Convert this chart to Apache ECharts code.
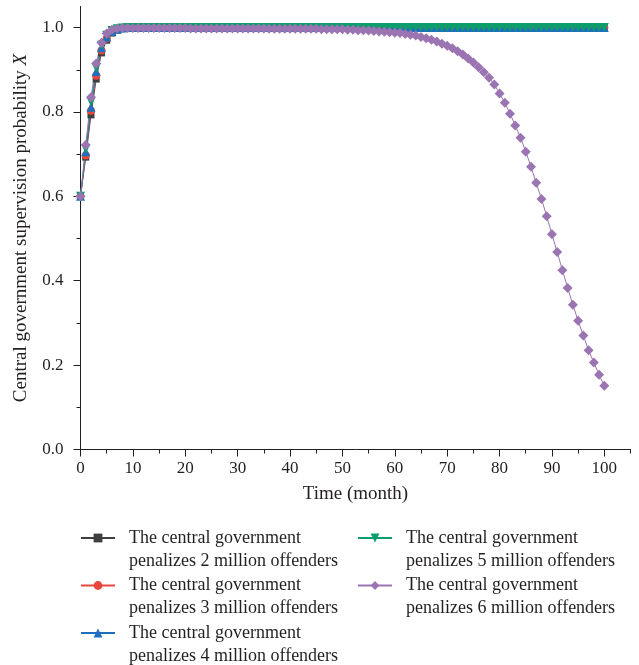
<!DOCTYPE html>
<html>
<head>
<meta charset="utf-8">
<script src="https://cdn.jsdelivr.net/npm/echarts@6/dist/echarts.min.js"></script>
<style>
  html, body { margin: 0; padding: 0; background: #fff; }
  #chart { width: 639px; height: 665px; }
</style>
</head>
<body>
<div id="chart"></div>
<script>
// Simulation horizon in months
const months = [
  0, 1, 2, 3, 4, 5, 6, 7, 8, 9, 10, 11, 12, 13, 14, 15, 16, 17, 18, 19,
  20, 21, 22, 23, 24, 25, 26, 27, 28, 29, 30, 31, 32, 33, 34, 35, 36, 37, 38, 39,
  40, 41, 42, 43, 44, 45, 46, 47, 48, 49, 50, 51, 52, 53, 54, 55, 56, 57, 58, 59,
  60, 61, 62, 63, 64, 65, 66, 67, 68, 69, 70, 71, 72, 73, 74, 75, 76, 77, 78, 79,
  80, 81, 82, 83, 84, 85, 86, 87, 88, 89, 90, 91, 92, 93, 94, 95, 96, 97, 98, 99,
  100
];

// Supervision probability X under each penalty level
const penalty2M = [
  0.600, 0.693, 0.793, 0.878, 0.940, 0.970, 0.987, 0.994, 0.998, 0.999,
  1, 1, 1, 1, 1, 1, 1, 1, 1, 1,
  1, 1, 1, 1, 1, 1, 1, 1, 1, 1,
  1, 1, 1, 1, 1, 1, 1, 1, 1, 1,
  1, 1, 1, 1, 1, 1, 1, 1, 1, 1,
  1, 1, 1, 1, 1, 1, 1, 1, 1, 1,
  1, 1, 1, 1, 1, 1, 1, 1, 1, 1,
  1, 1, 1, 1, 1, 1, 1, 1, 1, 1,
  1, 1, 1, 1, 1, 1, 1, 1, 1, 1,
  1, 1, 1, 1, 1, 1, 1, 1, 1, 1,
  1
];
const penalty3M = [
  0.600, 0.697, 0.803, 0.886, 0.946, 0.974, 0.989, 0.995, 0.998, 0.999,
  1, 1, 1, 1, 1, 1, 1, 1, 1, 1,
  1, 1, 1, 1, 1, 1, 1, 1, 1, 1,
  1, 1, 1, 1, 1, 1, 1, 1, 1, 1,
  1, 1, 1, 1, 1, 1, 1, 1, 1, 1,
  1, 1, 1, 1, 1, 1, 1, 1, 1, 1,
  1, 1, 1, 1, 1, 1, 1, 1, 1, 1,
  1, 1, 1, 1, 1, 1, 1, 1, 1, 1,
  1, 1, 1, 1, 1, 1, 1, 1, 1, 1,
  1, 1, 1, 1, 1, 1, 1, 1, 1, 1,
  1
];
const penalty4M = [
  0.600, 0.706, 0.811, 0.896, 0.952, 0.978, 0.991, 0.996, 0.999, 1,
  1, 1, 1, 1, 1, 1, 1, 1, 1, 1,
  1, 1, 1, 1, 1, 1, 1, 1, 1, 1,
  1, 1, 1, 1, 1, 1, 1, 1, 1, 1,
  1, 1, 1, 1, 1, 1, 1, 1, 1, 1,
  1, 1, 1, 1, 1, 1, 1, 1, 1, 1,
  1, 1, 1, 1, 1, 1, 1, 1, 1, 1,
  1, 1, 1, 1, 1, 1, 1, 1, 1, 1,
  1, 1, 1, 1, 1, 1, 1, 1, 1, 1,
  1, 1, 1, 1, 1, 1, 1, 1, 1, 1,
  1
];
const penalty5M = [
  0.600, 0.712, 0.824, 0.905, 0.958, 0.982, 0.993, 0.997, 0.999, 1,
  1, 1, 1, 1, 1, 1, 1, 1, 1, 1,
  1, 1, 1, 1, 1, 1, 1, 1, 1, 1,
  1, 1, 1, 1, 1, 1, 1, 1, 1, 1,
  1, 1, 1, 1, 1, 1, 1, 1, 1, 1,
  1, 1, 1, 1, 1, 1, 1, 1, 1, 1,
  1, 1, 1, 1, 1, 1, 1, 1, 1, 1,
  1, 1, 1, 1, 1, 1, 1, 1, 1, 1,
  1, 1, 1, 1, 1, 1, 1, 1, 1, 1,
  1, 1, 1, 1, 1, 1, 1, 1, 1, 1,
  1
];
const penalty6M = [
  0.600, 0.722, 0.835, 0.915, 0.964, 0.986, 0.995, 0.998, 0.999, 0.999,
  0.999, 0.999, 0.999, 0.999, 0.999, 0.999, 0.999, 0.999, 0.999, 0.999,
  0.999, 0.998, 0.998, 0.998, 0.998, 0.998, 0.998, 0.998, 0.998, 0.998,
  0.998, 0.998, 0.998, 0.998, 0.998, 0.998, 0.997, 0.997, 0.997, 0.997,
  0.997, 0.997, 0.997, 0.997, 0.997, 0.997, 0.996, 0.996, 0.996, 0.996,
  0.996, 0.995, 0.995, 0.994, 0.994, 0.993, 0.992, 0.991, 0.990, 0.989,
  0.988, 0.987, 0.985, 0.983, 0.981, 0.978, 0.975, 0.971, 0.967, 0.962,
  0.957, 0.951, 0.944, 0.936, 0.927, 0.917, 0.906, 0.894, 0.881, 0.865,
  0.844, 0.822, 0.796, 0.768, 0.739, 0.706, 0.670, 0.632, 0.594, 0.553,
  0.510, 0.468, 0.425, 0.383, 0.343, 0.305, 0.270, 0.235, 0.206, 0.177,
  0.151
];

const xMajorTicks = [0, 10, 20, 30, 40, 50, 60, 70, 80, 90, 100];
const xMinorTicks = [5, 15, 25, 35, 45, 55, 65, 75, 85, 95, 105];
const yMajorTicks = [0, 0.2, 0.4, 0.6, 0.8, 1.0];
const yMinorTicks = [0.1, 0.3, 0.5, 0.7, 0.9];

const seriesNames = [
  'The central government\npenalizes 2 million offenders',
  'The central government\npenalizes 3 million offenders',
  'The central government\npenalizes 4 million offenders',
  'The central government\npenalizes 5 million offenders',
  'The central government\npenalizes 6 million offenders'
];

const FONT = '"Liberation Serif", "DejaVu Serif", serif';
const AXIS_COLOR = '#231f20';

function pairs(values) {
  return months.map((m, i) => [m, values[i]]);
}

function makeSeries(name, values, color, symbol, size, rotate) {
  return {
    name: name,
    type: 'line',
    xAxisIndex: 0,
    yAxisIndex: 0,
    data: pairs(values),
    symbol: symbol,
    symbolSize: size,
    symbolRotate: rotate || 0,
    showAllSymbol: true,
    animation: false,
    lineStyle: { color: color, width: 1 },
    itemStyle: { color: color, borderWidth: 0 }
  };
}

// Two-line legend labels; a blank leading line keeps the first text
// line level with the icon, which the legend centres on the label block.
function legendColumn(names, left) {
  return {
    data: names,
    orient: 'vertical',
    left: left,
    top: 498.5,
    height: 300,
    itemWidth: 34,
    itemHeight: 11,
    itemGap: -21.5,
    formatter: name => '\n' + name,
    textStyle: {
      fontFamily: FONT,
      fontSize: 18,
      lineHeight: 23,
      color: '#231f20',
      padding: [0, 0, 0, 9]
    },
    selectedMode: false
  };
}

const chart = echarts.init(document.getElementById('chart'), null, { renderer: 'canvas' });

chart.setOption({
  backgroundColor: '#fff',
  animation: false,
  grid: { left: 80.5, right: 8.5, top: 6.5, bottom: 215.5, containLabel: false },
  legend: [
    legendColumn(seriesNames.slice(0, 3), 75),
    legendColumn(seriesNames.slice(3), 352)
  ],
  xAxis: [
    {
      type: 'value',
      min: 0,
      max: 105,
      interval: 5,
      name: 'Time (month)',
      nameLocation: 'middle',
      nameGap: 35,
      nameTextStyle: { fontFamily: FONT, fontSize: 19, color: AXIS_COLOR },
      axisLine: { show: true, onZero: false, lineStyle: { color: AXIS_COLOR, width: 1 } },
      axisTick: { show: true, inside: false, length: 7, customValues: xMajorTicks, lineStyle: { color: AXIS_COLOR } },
      axisLabel: { customValues: xMajorTicks, margin: 11, fontFamily: FONT, fontSize: 17, color: AXIS_COLOR },
      splitLine: { show: false }
    },
    {
      type: 'value',
      min: 0,
      max: 105,
      interval: 5,
      position: 'bottom',
      axisLine: { show: false },
      axisTick: { show: true, inside: false, length: 4, customValues: xMinorTicks, lineStyle: { color: AXIS_COLOR } },
      axisLabel: { show: false },
      splitLine: { show: false }
    }
  ],
  yAxis: [
    {
      type: 'value',
      min: 0,
      max: 1.05,
      interval: 0.05,
      name: '{a|Central government supervision probability }{b|X}',
      nameLocation: 'middle',
      nameGap: 50,
      nameTextStyle: {
        rich: {
          a: { fontFamily: FONT, fontSize: 19, color: AXIS_COLOR },
          b: { fontFamily: FONT, fontSize: 19, fontStyle: 'italic', color: AXIS_COLOR }
        }
      },
      axisLine: { show: true, onZero: false, lineStyle: { color: AXIS_COLOR, width: 1 } },
      axisTick: { show: true, inside: false, length: 7, customValues: yMajorTicks, lineStyle: { color: AXIS_COLOR } },
      axisLabel: {
        customValues: yMajorTicks,
        margin: 17,
        fontFamily: FONT,
        fontSize: 17,
        color: AXIS_COLOR,
        formatter: v => v.toFixed(1)
      },
      splitLine: { show: false }
    },
    {
      type: 'value',
      min: 0,
      max: 1.05,
      interval: 0.05,
      position: 'left',
      axisLine: { show: false },
      axisTick: { show: true, inside: false, length: 4, customValues: yMinorTicks, lineStyle: { color: AXIS_COLOR } },
      axisLabel: { show: false },
      splitLine: { show: false }
    }
  ],
  series: [
    makeSeries(seriesNames[0], penalty2M, '#3f3f3f', 'rect', 7),
    makeSeries(seriesNames[1], penalty3M, '#e8473d', 'circle', 8),
    makeSeries(seriesNames[2], penalty4M, '#1f6fbe', 'triangle', 9),
    makeSeries(seriesNames[3], penalty5M, '#0a9e6c', 'triangle', 9, 180),
    makeSeries(seriesNames[4], penalty6M, '#9b74b2', 'diamond', 10)
  ]
});
</script>
</body>
</html>
